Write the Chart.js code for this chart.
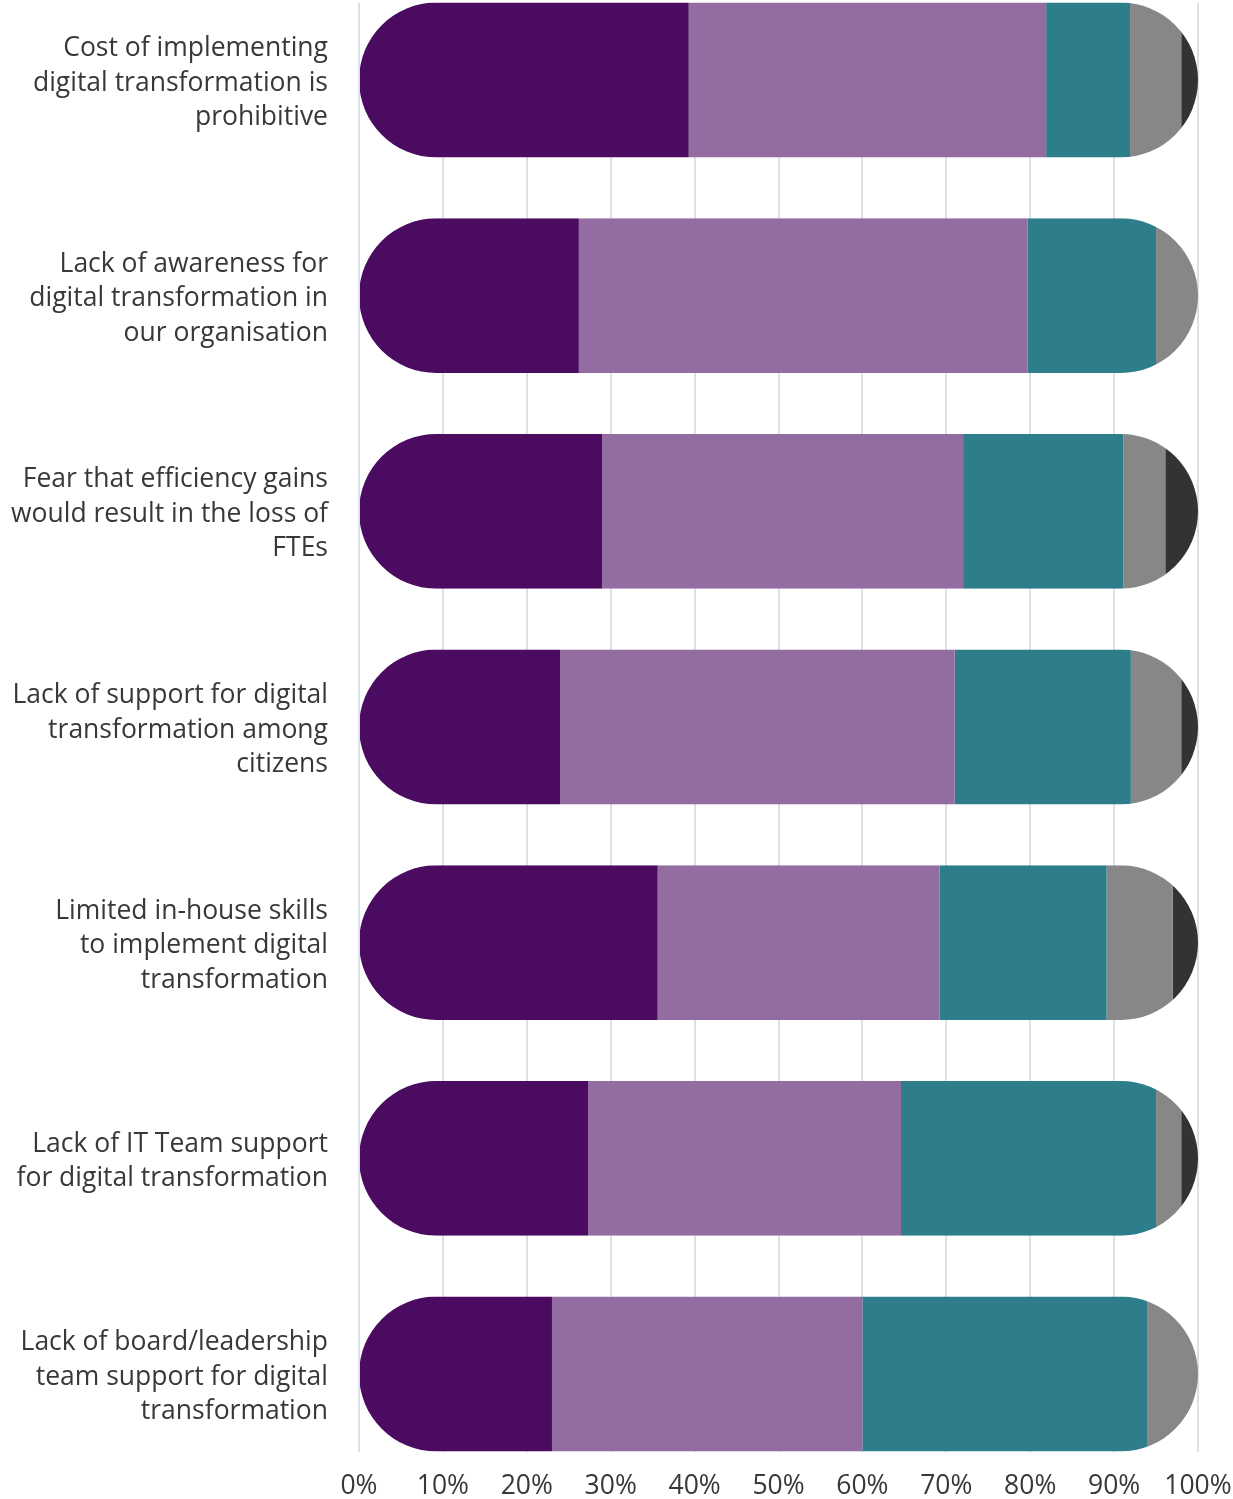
<!DOCTYPE html>
<html>
<head>
<meta charset="utf-8">
<script src="https://cdn.jsdelivr.net/npm/chart.js@4.4.1/dist/chart.umd.min.js"></script>
<style>
  html, body { margin: 0; padding: 0; background: #ffffff; }
  #wrap { width: 1233px; height: 1499px; position: relative; }
</style>
</head>
<body>
<div id="wrap"><canvas id="barriersChart"></canvas></div>
<script>
const categories = [
  ['Cost of implementing', 'digital transformation is', 'prohibitive'],
  ['Lack of awareness for', 'digital transformation in', 'our organisation'],
  ['Fear that efficiency gains', 'would result in the loss of', 'FTEs'],
  ['Lack of support for digital', 'transformation among', 'citizens'],
  ['Limited in-house skills', 'to implement digital', 'transformation'],
  ['Lack of IT Team support', 'for digital transformation'],
  ['Lack of board/leadership', 'team support for digital', 'transformation']
];

const stronglyAgree    = [39.3, 26.2, 29.0, 24.0, 35.6, 27.3, 23.0];
const agree            = [42.6, 53.5, 43.0, 47.0, 33.6, 37.3, 37.0];
const disagree         = [10.0, 15.3, 19.1, 21.0, 19.9, 30.4, 34.0];
const stronglyDisagree = [ 6.1,  5.0,  5.0,  6.0,  7.9,  3.0,  6.0];
const dontKnow         = [ 2.0,  0.0,  3.9,  2.0,  3.0,  2.0,  0.0];

const xTicks = [0, 10, 20, 30, 40, 50, 60, 70, 80, 90, 100];

const colors = ['#4b0b60', '#936ca2', '#2e7d8a', '#878787', '#333333'];
const gridColor = '#dbe1ea';
const textColor = '#383838';

// clip each stacked row into one pill shape
const pillClip = {
  id: 'pillClip',
  beforeDatasetsDraw(chart) {
    const ctx = chart.ctx;
    const xs = chart.scales.x;
    const ys = chart.scales.y;
    const meta = chart.getDatasetMeta(0);
    ctx.save();
    ctx.beginPath();
    categories.forEach((c, i) => {
      const total = chart.data.datasets.reduce((s, d) => s + d.data[i], 0);
      const h = meta.data[i].height;
      const y = ys.getPixelForValue(i) - h / 2;
      const x0 = xs.getPixelForValue(0);
      const x1 = xs.getPixelForValue(total);
      ctx.roundRect(x0, y, x1 - x0, h, h / 2);
    });
    ctx.clip();
  },
  afterDatasetsDraw(chart) {
    chart.ctx.restore();
  }
};

function noSidePadding(s) {
  s.paddingLeft = 0;
  s.paddingRight = 0;
}

function drawChart() {
  const ctx = document.getElementById('barriersChart').getContext('2d');
  const series = [stronglyAgree, agree, disagree, stronglyDisagree, dontKnow];
  const names = ['Strongly agree', 'Agree', 'Disagree', 'Strongly disagree', "Don't know"];

  new Chart(ctx, {
    type: 'bar',
    data: {
      labels: categories,
      datasets: series.map((d, i) => ({
        label: names[i],
        data: d,
        backgroundColor: colors[i],
        borderWidth: 0,
        borderSkipped: false,
        clip: false,
        barPercentage: 0.718,
        categoryPercentage: 1
      }))
    },
    options: {
      indexAxis: 'y',
      responsive: true,
      maintainAspectRatio: false,
      animation: false,
      layout: { padding: { top: 3, right: 35, bottom: 0, left: 0 } },
      plugins: {
        legend: { display: false },
        tooltip: { enabled: false }
      },
      scales: {
        x: {
          type: 'linear',
          stacked: true,
          min: 0,
          max: 100,
          position: 'bottom',
          afterBuildTicks: (s) => { s.ticks = xTicks.map(v => ({ value: v })); },
          afterFit: (s) => { noSidePadding(s); s.height = 125; },
          grid: { color: gridColor, lineWidth: 2, drawTicks: true, tickLength: 78 },
          border: { display: false },
          ticks: {
            color: textColor,
            padding: 19,
            maxRotation: 0,
            font: { family: 'Open Sans', size: 26.5 },
            callback: (v) => v + '%'
          }
        },
        xTop: {
          type: 'linear',
          min: 0,
          max: 100,
          position: 'top',
          afterBuildTicks: (s) => { s.ticks = xTicks.map(v => ({ value: v })); },
          afterFit: (s) => { noSidePadding(s); s.height = 77; },
          grid: { color: gridColor, lineWidth: 2, drawTicks: true, tickLength: 77 },
          border: { display: false },
          ticks: { display: false }
        },
        y: {
          stacked: true,
          offset: false,
          afterFit: (s) => { s.width = 359; s.paddingTop = 0; s.paddingBottom = 0; },
          grid: { display: false, drawTicks: false },
          border: { display: false },
          ticks: {
            color: textColor,
            padding: 31,
            labelOffset: 3,
            font: { family: 'Open Sans', size: 26.5, lineHeight: 1.3 }
          }
        }
      }
    },
    plugins: [pillClip]
  });
}

window.addEventListener('DOMContentLoaded', () => {
  drawChart();
});
</script>
</body>
</html>
